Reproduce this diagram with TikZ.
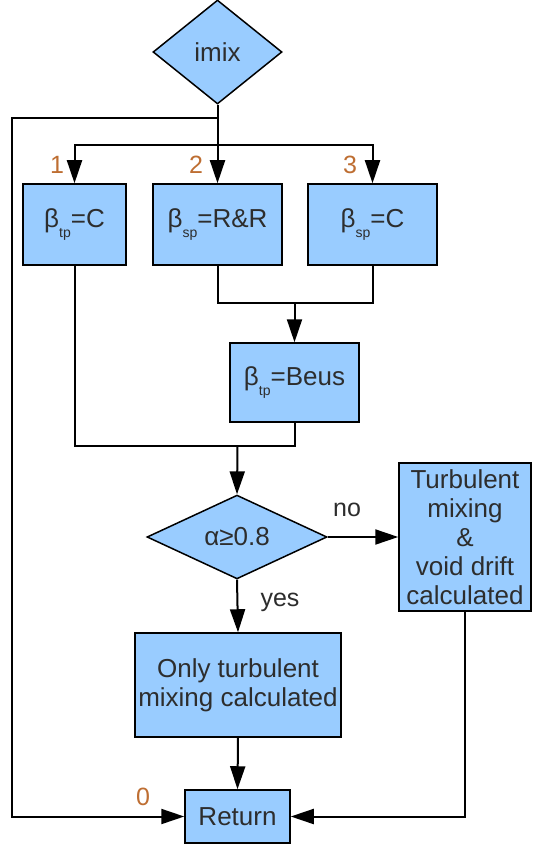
\documentclass[tikz,border=0pt]{standalone}
\usepackage{fontspec}
\setmainfont{Liberation Sans}
\usetikzlibrary{shapes.geometric,arrows.meta}
\definecolor{boxfill}{RGB}{153,204,255}
\definecolor{txt}{RGB}{45,45,45}
\definecolor{lbl}{RGB}{190,110,50}
\newcommand\sbs[1]{\raisebox{-0.4em}{\fontsize{14}{14}\selectfont #1}}
\begin{document}
\begin{tikzpicture}[x=1pt,y=-1pt,
  box/.style={draw=black, line width=1.5pt, fill=boxfill, text=txt, inner sep=0pt,
    font=\fontsize{26}{29}\selectfont, align=center},
  dia/.style={box, diamond},
  arr/.style={line width=2pt, -{Triangle[length=23pt,width=15pt]}},
  ln/.style={line width=2pt},
  lab/.style={text=lbl, font=\fontsize{25}{28}\selectfont, inner sep=0pt}]
\useasboundingbox[fill=white] (0,0) rectangle (533,845);
% nodes
\node[dia, minimum width=129pt, minimum height=104pt] (imix) at (217.5,52) {imix};
\node[box, minimum width=103pt, minimum height=81pt] (b1) at (74.5,224.5) {β\sbs{tp}=C};
\node[box, minimum width=129pt, minimum height=81pt] (b2) at (217.5,224.5) {β\sbs{sp}=R\&R};
\node[box, minimum width=129pt, minimum height=81pt] (b3) at (372.5,224.5) {β\sbs{sp}=C};
\node[box, minimum width=129pt, minimum height=79pt] (beus) at (294.5,382.5) {β\sbs{tp}=Beus};
\node[dia, minimum width=180pt, minimum height=78pt] (alpha) at (237,537) {α≥0.8};
\node[box, minimum width=132pt, minimum height=148pt] (turb) at (465,537) {Turbulent\\mixing\\\&\\void drift\\calculated};
\node[box, minimum width=206pt, minimum height=104pt] (only) at (238,685) {Only turbulent\\mixing calculated};
\node[box, minimum width=105pt, minimum height=53pt] (ret) at (237.5,816.5) {Return};
% junctions
\coordinate (j0) at (217.5,118);
\coordinate (j1) at (217.5,145);
\coordinate (lft) at (12,118);
\coordinate (m1) at (294.5,303);
\coordinate (m2) at (237.5,446);
% connectors
\draw[arr] (imix.south) -- (b2.north);
\draw[arr] (j1) -| (b1.north);
\draw[arr] (j1) -| (b3.north);
\draw[arr] (j0) -- (lft) |- (ret.west);
\draw[ln] (b2.south) |- (m1) -| (b3.south);
\draw[arr] (m1) -- (beus.north);
\draw[ln] (b1.south) |- (m2) -| (beus.south);
\draw[arr] (m2) -- (alpha.north);
\draw[arr] (alpha.east) -- (turb.west);
\draw[arr] (alpha.south) -- (only.north);
\draw[arr] (only.south) -- (ret.north);
\draw[arr] (turb.south) |- (ret.east);
% labels
\node[lab] (l1) at (57,165) {1};
\node[lab] (l2) at (196,165) {2};
\node[lab] (l3) at (350,165) {3};
\node[lab] (l0) at (143,797) {0};
\node[lab, text=txt] (lno) at (347,510) {no};
\node[lab, text=txt] (lyes) at (280,602) {yes};
\end{tikzpicture}
\end{document}
